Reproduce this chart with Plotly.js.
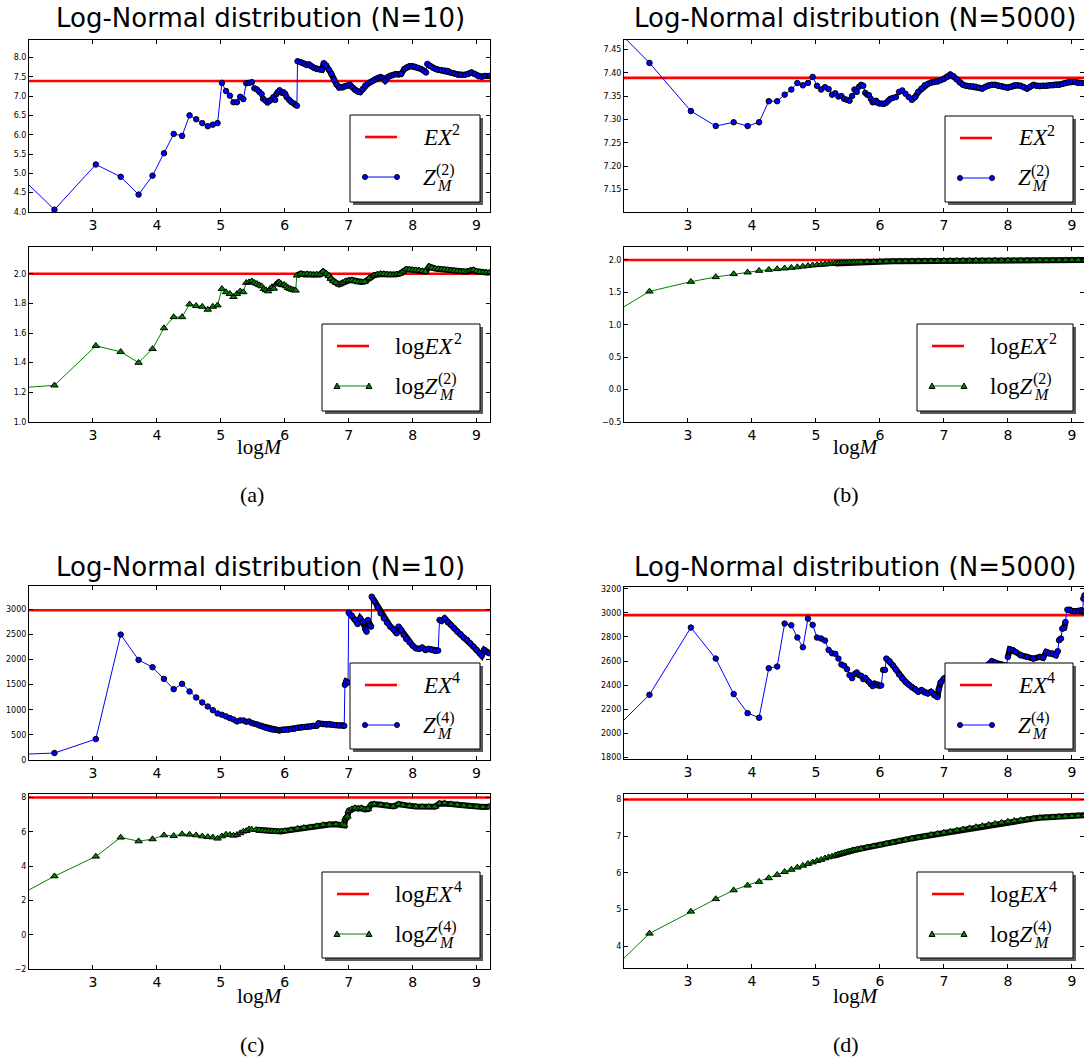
<!DOCTYPE html>
<html><head><meta charset="utf-8">
<script src="https://cdn.plot.ly/plotly-3.0.1.min.js"></script>
<style>html,body{margin:0;padding:0;background:#fff;overflow:hidden}#chart{width:1084px;height:1060px}</style>
</head><body><div id="chart"></div>
<script>
// ---------- reference values ----------
const EX2 = 7.389, LOG_EX2 = 2.0, EX4 = 2981, LOG_EX4 = 8.0;
const X_TICKS = [3, 4, 5, 6, 7, 8, 9];

// (a) top : Z_M^(2), N=10
const aTopX = [2.0,2.398,3.045,3.434,3.714,3.932,4.111,4.263,4.394,4.511,4.615,4.710,4.796,4.875,4.949,5.017,5.081,5.142,5.198,5.252,5.303,5.352,5.398,5.442,5.485,5.525,5.565,5.602,5.638,5.66,5.70,5.73,5.76,5.78,5.82,5.85,5.87,5.89,5.92,5.96,5.98,6.01,6.03,6.07,6.10,6.14,6.16,6.19,6.20,6.26,6.30,6.34,6.38,6.42,6.46,6.50,6.54,6.58,6.61,6.65,6.69,6.73,6.77,6.81,6.85,6.90,6.94,6.98,7.02,7.06,7.10,7.14,7.18,7.22,7.26,7.30,7.34,7.38,7.42,7.46,7.50,7.54,7.57,7.62,7.66,7.70,7.74,7.78,7.82,7.87,7.91,7.95,7.99,8.03,8.08,8.13,8.17,8.21,8.23,8.27,8.32,8.36,8.40,8.45,8.50,8.55,8.61,8.66,8.71,8.76,8.82,8.87,8.92,8.97,9.03,9.08,9.13,9.20];
const aTopY = [4.70,4.06,5.23,4.91,4.45,4.94,5.52,6.02,5.97,6.50,6.40,6.30,6.22,6.26,6.30,7.34,7.13,7.01,6.84,6.84,6.98,6.92,7.33,7.34,7.36,7.20,7.17,7.11,7.05,6.93,6.88,6.83,6.87,6.90,6.97,6.90,7.05,7.10,7.15,7.08,7.10,7.05,6.97,6.90,6.85,6.81,6.78,6.75,7.90,7.87,7.84,7.80,7.82,7.77,7.73,7.70,7.69,7.68,7.85,7.79,7.68,7.57,7.42,7.30,7.22,7.22,7.25,7.27,7.29,7.22,7.16,7.12,7.10,7.18,7.27,7.32,7.36,7.40,7.44,7.47,7.49,7.46,7.40,7.50,7.53,7.55,7.57,7.56,7.57,7.70,7.74,7.77,7.77,7.76,7.73,7.70,7.66,7.61,7.83,7.78,7.73,7.70,7.68,7.67,7.66,7.65,7.60,7.58,7.55,7.55,7.55,7.57,7.61,7.57,7.51,7.50,7.52,7.52];

// (a) bottom : log Z_M^(2), N=10
const aBotX = [2.0,2.398,3.045,3.434,3.714,3.932,4.111,4.263,4.394,4.511,4.615,4.710,4.796,4.875,4.949,5.017,5.081,5.142,5.198,5.252,5.303,5.352,5.398,5.442,5.485,5.525,5.565,5.602,5.638,5.673,5.707,5.740,5.771,5.801,5.829,5.858,5.886,5.913,5.940,5.966,5.991,6.02,6.05,6.08,6.11,6.14,6.17,6.19,6.25,6.30,6.35,6.40,6.45,6.50,6.55,6.60,6.65,6.69,6.72,6.76,6.80,6.85,6.90,6.95,7.00,7.05,7.10,7.15,7.20,7.25,7.32,7.40,7.45,7.50,7.55,7.60,7.65,7.70,7.75,7.80,7.85,7.90,7.95,8.00,8.05,8.10,8.15,8.20,8.26,8.30,8.35,8.40,8.45,8.50,8.55,8.60,8.65,8.70,8.75,8.80,8.85,8.90,8.95,9.00,9.05,9.10,9.15,9.20];
const aBotY = [1.235,1.247,1.514,1.473,1.400,1.493,1.633,1.708,1.708,1.794,1.783,1.778,1.758,1.778,1.787,1.898,1.876,1.864,1.844,1.864,1.882,1.876,1.939,1.943,1.950,1.939,1.932,1.923,1.916,1.898,1.889,1.882,1.898,1.910,1.900,1.928,1.939,1.943,1.932,1.923,1.925,1.916,1.905,1.898,1.894,1.890,1.887,1.989,2.000,1.995,1.998,1.995,1.993,1.995,1.995,2.014,2.000,1.985,1.966,1.950,1.939,1.928,1.938,1.950,1.955,1.957,1.950,1.943,1.944,1.946,1.970,1.989,1.995,2.000,1.998,1.995,1.993,1.991,1.996,2.000,2.015,2.030,2.028,2.025,2.024,2.023,2.018,2.014,2.048,2.040,2.034,2.032,2.030,2.028,2.025,2.022,2.020,2.017,2.014,2.014,2.014,2.020,2.025,2.016,2.011,2.010,2.008,2.007];

// (b) top : Z_M^(2), N=5000
const bTopX = [2.0,2.398,3.045,3.434,3.714,3.932,4.111,4.263,4.394,4.511,4.615,4.710,4.796,4.875,4.949,5.017,5.081,5.142,5.198,5.252,5.303,5.352,5.398,5.442,5.485,5.525,5.565,5.602,5.638,5.673,5.707,5.740,5.771,5.801,5.829,5.858,5.886,5.913,5.940,5.966,5.991,6.03,6.06,6.10,6.13,6.16,6.20,6.25,6.30,6.35,6.40,6.45,6.50,6.55,6.60,6.65,6.70,6.75,6.80,6.85,6.90,6.95,7.00,7.05,7.10,7.15,7.20,7.25,7.30,7.35,7.40,7.45,7.50,7.55,7.60,7.65,7.70,7.75,7.80,7.85,7.90,7.95,8.00,8.05,8.10,8.15,8.20,8.25,8.30,8.35,8.40,8.45,8.50,8.55,8.60,8.65,8.70,8.75,8.80,8.85,8.90,8.95,9.00,9.05,9.10,9.15,9.20];
const bTopY = [7.476,7.421,7.318,7.286,7.294,7.286,7.294,7.339,7.339,7.353,7.364,7.378,7.373,7.378,7.391,7.372,7.364,7.369,7.365,7.353,7.356,7.349,7.350,7.344,7.342,7.340,7.350,7.364,7.359,7.370,7.374,7.372,7.357,7.353,7.352,7.344,7.337,7.337,7.340,7.336,7.334,7.334,7.333,7.336,7.340,7.344,7.346,7.348,7.359,7.362,7.355,7.348,7.342,7.348,7.359,7.366,7.373,7.376,7.379,7.380,7.381,7.384,7.387,7.391,7.396,7.392,7.386,7.379,7.374,7.372,7.371,7.371,7.370,7.368,7.366,7.370,7.373,7.374,7.374,7.372,7.371,7.369,7.368,7.370,7.373,7.373,7.372,7.369,7.366,7.370,7.374,7.372,7.371,7.372,7.372,7.373,7.373,7.374,7.374,7.376,7.378,7.380,7.380,7.380,7.378,7.378,7.378];

// (b) bottom : log Z_M^(2), N=5000
const bBotX = [2.0,2.398,3.045,3.434,3.714,3.932,4.111,4.263,4.394,4.511,4.615,4.710,4.796,4.875,4.949,5.017,5.081,5.142,5.198,5.252,5.303,5.352,5.398,5.442,5.485,5.525,5.565,5.60,5.65,5.70,5.80,5.90,6.00,6.10,6.20,6.30,6.40,6.50,6.60,6.70,6.80,6.90,7.00,7.10,7.20,7.30,7.40,7.50,7.60,7.70,7.80,7.90,8.00,8.10,8.20,8.30,8.40,8.50,8.60,8.70,8.80,8.90,9.00,9.10,9.20];
const bBotY = [1.278,1.515,1.665,1.737,1.784,1.809,1.835,1.850,1.861,1.871,1.880,1.890,1.900,1.910,1.918,1.923,1.928,1.933,1.938,1.942,1.946,1.949,1.952,1.955,1.957,1.959,1.961,1.963,1.965,1.967,1.970,1.973,1.975,1.977,1.979,1.980,1.981,1.982,1.983,1.984,1.985,1.986,1.987,1.988,1.989,1.989,1.990,1.990,1.991,1.991,1.992,1.992,1.993,1.993,1.994,1.994,1.995,1.995,1.995,1.996,1.996,1.997,1.997,1.998,1.998];

// (c) top : Z_M^(4), N=10
const cTopX = [2.0,2.398,3.045,3.434,3.714,3.932,4.111,4.263,4.394,4.511,4.615,4.710,4.796,4.875,4.949,5.017,5.081,5.142,5.198,5.252,5.303,5.352,5.398,5.442,5.485,5.525,5.565,5.602,5.638,5.673,5.707,5.740,5.771,5.801,5.829,5.858,5.886,5.913,5.940,5.966,5.991,6.05,6.10,6.15,6.20,6.25,6.30,6.35,6.40,6.45,6.50,6.53,6.60,6.65,6.70,6.75,6.80,6.85,6.90,6.93,6.94,6.96,6.99,7.00,7.05,7.10,7.14,7.18,7.22,7.26,7.28,7.30,7.33,7.35,7.36,7.40,7.45,7.50,7.55,7.60,7.65,7.70,7.75,7.78,7.82,7.86,7.90,7.95,8.00,8.05,8.10,8.15,8.20,8.25,8.30,8.35,8.40,8.42,8.45,8.50,8.55,8.60,8.65,8.70,8.75,8.80,8.85,8.90,8.95,9.00,9.05,9.08,9.12,9.16,9.20];
const cTopY = [119,139,417,2497,1993,1848,1616,1411,1517,1364,1245,1146,1066,993,927,901,868,834,808,768,788,788,762,768,735,722,709,689,676,656,642,629,623,609,609,603,596,589,596,603,603,603,616,623,642,649,656,662,669,682,682,728,715,709,715,702,695,689,689,680,1497,1563,1543,2934,2874,2788,2709,2821,2755,2603,2556,2788,2689,2656,3252,3166,3040,2921,2821,2735,2656,2603,2523,2656,2590,2490,2411,2345,2278,2225,2212,2239,2192,2212,2192,2172,2179,2788,2768,2821,2742,2689,2623,2556,2503,2437,2391,2325,2258,2192,2126,2080,2192,2146,2126];

// (c) bottom : log Z_M^(4), N=10
const cBotX = [2.0,2.398,3.045,3.434,3.714,3.932,4.111,4.263,4.394,4.511,4.615,4.710,4.796,4.875,4.949,5.017,5.081,5.142,5.198,5.252,5.303,5.352,5.398,5.442,5.485,5.55,5.60,5.65,5.70,5.75,5.80,5.85,5.90,5.95,6.00,6.10,6.20,6.30,6.40,6.50,6.60,6.70,6.80,6.90,6.93,6.95,6.98,7.00,7.05,7.10,7.15,7.20,7.25,7.30,7.35,7.40,7.50,7.60,7.70,7.78,7.85,7.95,8.05,8.15,8.25,8.35,8.42,8.50,8.60,8.70,8.80,8.90,9.00,9.10,9.20];
const cBotY = [2.61,3.41,4.56,5.67,5.45,5.57,5.80,5.76,5.86,5.84,5.80,5.74,5.70,5.68,5.61,5.74,5.84,5.82,5.78,5.82,5.92,6.02,6.05,6.15,6.13,6.11,6.09,6.07,6.05,6.03,6.03,6.02,6.00,6.02,6.05,6.11,6.19,6.23,6.27,6.33,6.40,6.42,6.44,6.44,6.37,6.79,6.89,7.22,7.32,7.38,7.34,7.38,7.30,7.32,7.57,7.61,7.57,7.53,7.47,7.61,7.55,7.51,7.47,7.46,7.46,7.46,7.65,7.67,7.61,7.57,7.53,7.49,7.46,7.44,7.46];

// (d) top : Z_M^(4), N=5000
const dTopX = [2.0,2.398,3.045,3.434,3.714,3.932,4.111,4.263,4.394,4.511,4.615,4.710,4.796,4.875,4.949,5.017,5.081,5.142,5.198,5.252,5.303,5.352,5.398,5.442,5.485,5.525,5.565,5.602,5.638,5.673,5.707,5.740,5.771,5.801,5.829,5.858,5.886,5.913,5.940,5.966,5.991,6.02,6.05,6.08,6.10,6.15,6.20,6.25,6.30,6.35,6.40,6.45,6.50,6.55,6.60,6.65,6.70,6.75,6.80,6.85,6.90,6.92,6.95,7.00,7.05,7.20,7.40,7.60,7.70,7.75,7.80,7.90,7.98,8.00,8.03,8.08,8.12,8.20,8.30,8.40,8.50,8.55,8.60,8.65,8.70,8.75,8.78,8.80,8.83,8.85,8.88,8.90,8.93,8.97,9.00,9.05,9.10,9.15,9.17,9.18,9.20];
const dTopY = [2112,2321,2878,2621,2327,2169,2131,2541,2555,2911,2897,2795,2715,2952,2900,2795,2787,2770,2693,2665,2660,2621,2572,2561,2533,2484,2459,2492,2506,2484,2478,2451,2462,2442,2428,2409,2393,2415,2401,2406,2395,2398,2527,2527,2621,2599,2566,2530,2489,2456,2428,2406,2384,2368,2346,2360,2340,2332,2346,2318,2302,2368,2423,2456,2470,2490,2510,2535,2575,2599,2588,2572,2561,2635,2698,2690,2676,2649,2635,2621,2635,2627,2676,2663,2663,2649,2682,2773,2787,2869,2875,2924,3026,3026,3015,3013,3013,3021,3007,3117,3145];

// (d) bottom : log Z_M^(4), N=5000
const dBotX = [2.0,2.398,3.045,3.434,3.714,3.932,4.111,4.263,4.394,4.511,4.615,4.710,4.796,4.875,4.949,5.017,5.081,5.142,5.198,5.252,5.303,5.352,5.398,5.442,5.485,5.525,5.565,5.60,5.65,5.70,5.80,5.90,6.00,6.10,6.20,6.30,6.40,6.50,6.60,6.70,6.80,6.90,7.00,7.10,7.20,7.30,7.40,7.50,7.60,7.70,7.80,7.90,8.00,8.10,8.20,8.30,8.40,8.50,8.60,8.70,8.80,8.90,9.00,9.10,9.20];
const dBotY = [3.68,4.35,4.95,5.29,5.53,5.66,5.76,5.86,5.95,6.03,6.09,6.15,6.20,6.25,6.29,6.33,6.36,6.40,6.43,6.45,6.48,6.51,6.53,6.55,6.57,6.59,6.61,6.62,6.64,6.66,6.70,6.73,6.76,6.80,6.83,6.87,6.90,6.94,6.97,7.00,7.04,7.07,7.10,7.13,7.16,7.19,7.22,7.25,7.28,7.31,7.34,7.37,7.40,7.42,7.44,7.46,7.48,7.50,7.51,7.52,7.53,7.54,7.55,7.56,7.57];

const TITLES = ['Log-Normal distribution (N=10)', 'Log-Normal distribution (N=5000)', 'Log-Normal distribution (N=10)', 'Log-Normal distribution (N=5000)'];
const CAPTIONS = ['(a)', '(b)', '(c)', '(d)'];

// ---------- layout / style ----------
const W = 1084, H = 1060;
const panels = [
  {x:aTopX, y:aTopY, ref:EX2,     log:false, m:2, box:[29,490,40,212],   xr:[2,9.21], yr:[4.0,8.45],   dtick:0.5,  fmt:'.1f', dense:6.195, lg:[350,480,115,202]},
  {x:aBotX, y:aBotY, ref:LOG_EX2, log:true,  m:2, box:[29,490,247,422],  xr:[2,9.21], yr:[1.0,2.18],   dtick:0.2,  fmt:'.1f', dense:6.185, lg:[322,480,324,411]},
  {x:bTopX, y:bTopY, ref:EX2,     log:false, m:2, box:[624,1084,40,212], xr:[2,9.19], yr:[7.102,7.47], dtick:0.05, fmt:'.2f', dense:6.5,   lg:[945,1073,116,202]},
  {x:bBotX, y:bBotY, ref:LOG_EX2, log:true,  m:2, box:[624,1084,247,422],xr:[2,9.19], yr:[-0.5,2.2],   dtick:0.5,  fmt:'.1f', dense:5.3,   lg:[917,1073,324,411]},
  {x:cTopX, y:cTopY, ref:EX4,     log:false, m:4, box:[29,490,586,760],  xr:[2,9.21], yr:[0,3465],     dtick:500,  fmt:'d',   dense:5.6,   lg:[350,480,663,749]},
  {x:cBotX, y:cBotY, ref:LOG_EX4, log:true,  m:4, box:[29,490,794,969],  xr:[2,9.21], yr:[-2,8.2],     dtick:2,    fmt:'d',   dense:5.5,   lg:[322,480,872,958]},
  {x:dTopX, y:dTopY, ref:EX4,     log:false, m:4, box:[624,1084,587,759],xr:[2,9.19], yr:[1789,3214],  dtick:200,  fmt:'d',   dense:6.1,   lg:[945,1073,663,749]},
  {x:dBotX, y:dBotY, ref:LOG_EX4, log:true,  m:4, box:[624,1084,794,968],xr:[2,9.19], yr:[3.41,8.15],  dtick:1,    fmt:'d',   dense:5.3,   lg:[917,1073,872,958]}
];

const traces = [];
const layout = {
  width: W, height: H, margin: {l:0, r:0, t:0, b:0},
  paper_bgcolor: '#fff', plot_bgcolor: '#fff', showlegend: false,
  annotations: [], shapes: []
};
const px = (v) => v / W, py = (v) => 1 - v / H;
const SERIF = 'Liberation Serif';
const LEG_FS = 23, SCR_FS = 16;
// approximate advance widths (em) for Liberation Serif
const W_LOG = 1.278, W_EX = 1.222, W_Z = 0.556;

function txt(t, x, y, size, family, anchor) {
  layout.annotations.push({text:t, x:px(x), y:py(y), xref:'paper', yref:'paper', xanchor:anchor || 'left',
    yanchor:'middle', showarrow:false, borderpad:0, font:{family:family || SERIF, size:size, color:'#000'}});
}

function legendBox(p, col) {
  const [L, R, T, B] = p.lg;
  const S = layout.shapes;
  S.push({type:'rect', xref:'paper', yref:'paper', x0:px(L+3), x1:px(R+3), y0:py(B+3), y1:py(T+3),
    fillcolor:'#5a5a5a', line:{width:0}});
  S.push({type:'rect', xref:'paper', yref:'paper', x0:px(L), x1:px(R), y0:py(B), y1:py(T),
    fillcolor:'#ffffff', line:{color:'#000', width:1}});
  const l0 = L + 15, l1 = L + 47, y1 = T + 22, y2 = T + 62;
  S.push({type:'line', xref:'paper', yref:'paper', x0:px(l0), x1:px(l1), y0:py(y1), y1:py(y1), line:{color:'#ff0000', width:2.6}});
  S.push({type:'line', xref:'paper', yref:'paper', x0:px(l0), x1:px(l1), y0:py(y2), y1:py(y2), line:{color:col, width:1}});
  [l0, l1].forEach(cx => {
    if (p.log) {
      S.push({type:'path', xref:'paper', yref:'paper',
        path:`M${px(cx-3)},${py(y2+2.5)} L${px(cx+3)},${py(y2+2.5)} L${px(cx)},${py(y2-3)} Z`,
        fillcolor:col, line:{color:'#000', width:1}});
    } else {
      S.push({type:'circle', xref:'paper', yref:'paper', x0:px(cx-2.5), x1:px(cx+2.5), y0:py(y2+2.5), y1:py(y2-2.5),
        fillcolor:col, line:{color:'#000', width:1}});
    }
  });
  const tx = L + 72;
  const pre = p.log ? 'log' : '';
  const preW = p.log ? W_LOG * LEG_FS : 0;
  // entry 1
  txt(pre + '<i>EX</i>', tx, y1, LEG_FS);
  txt(String(p.m), tx + preW + W_EX * LEG_FS + 1, y1 - 7.5, SCR_FS);
  // entry 2 (stacked super/subscript)
  txt(pre + '<i>Z</i>', tx, y2, LEG_FS);
  const sx = tx + preW + W_Z * LEG_FS + 0.5;
  txt('(' + p.m + ')', sx, y2 - 7, SCR_FS);
  txt('<i>M</i>', sx + 1, y2 + 8, SCR_FS);
}

panels.forEach((p, k) => {
  const i = k + 1;
  const xa = i === 1 ? 'x' : 'x' + i, ya = i === 1 ? 'y' : 'y' + i;
  const n = Math.min(p.x.length, p.y.length);
  const X = p.x.slice(0, n), Y = p.y.slice(0, n);
  const col = p.log ? '#008000' : '#0000ff';

  // reference line
  traces.push({type:'scatter', mode:'lines', x:[p.xr[0], p.xr[1]], y:[p.ref, p.ref], xaxis:xa, yaxis:ya,
    line:{color:'#ff0000', width:2.6}, hoverinfo:'skip'});
  // leading segment from the axis edge
  traces.push({type:'scatter', mode:'lines', x:X.slice(0,2), y:Y.slice(0,2), xaxis:xa, yaxis:ya,
    line:{color:col, width:1}, hoverinfo:'skip'});
  // dense band (overlapping marker outlines)
  const pxPerY = (p.box[3]-p.box[2]) / (p.yr[1]-p.yr[0]);
  const bx = [], by = []; let prev = null;
  for (let j = 1; j < n; j++) {
    if (X[j] < p.dense) continue;
    if (prev !== null && Math.abs(Y[j]-prev) * pxPerY > 8) { bx.push(null); by.push(null); }
    bx.push(X[j]); by.push(Y[j]); prev = Y[j];
  }
  traces.push({type:'scatter', mode:'lines', x:bx, y:by, xaxis:xa, yaxis:ya,
    line:{color:'#000', width:6}, hoverinfo:'skip'});
  // series
  traces.push({type:'scatter', mode:'lines+markers', x:X.slice(1), y:Y.slice(1), xaxis:xa, yaxis:ya,
    line:{color:col, width:1},
    marker: p.log ? {symbol:'triangle-up', size:6.5, color:col, line:{color:'#000', width:1}}
                  : {symbol:'circle', size:5.5, color:col, line:{color:'#000', width:1}},
    hoverinfo:'skip'});

  layout[i === 1 ? 'xaxis' : 'xaxis' + i] = {
    domain:[px(p.box[0]), px(p.box[1])], anchor:ya, range:p.xr, tickvals:X_TICKS,
    ticks:'inside', ticklen:4, tickcolor:'#000', showline:true, linecolor:'#000', linewidth:1, mirror:'allticks',
    showgrid:false, zeroline:false, tickfont:{family:'DejaVu Sans', size:14, color:'#000'}
  };
  layout[i === 1 ? 'yaxis' : 'yaxis' + i] = {
    domain:[py(p.box[3]), py(p.box[2])], anchor:xa, range:p.yr, tick0:0, dtick:p.dtick, tickformat:p.fmt,
    ticks:'inside', ticklen:4, tickcolor:'#000', showline:true, linecolor:'#000', linewidth:1, mirror:'allticks',
    showgrid:false, zeroline:false, tickfont:{family:'DejaVu Sans', size:8, color:'#000'}
  };
  legendBox(p, col);
});

const titlePos = [[260,18],[855,18],[260,567],[855,567]];
const xlabPos = [[260,447],[856,447],[260,996],[856,996]];
const capPos = [[252,494],[846,494],[252,1044],[846,1044]];
TITLES.forEach((t, k) => {
  txt(t, titlePos[k][0], titlePos[k][1], 26, 'DejaVu Sans', 'center');
  txt('log<i>M</i>', xlabPos[k][0], xlabPos[k][1], 21, SERIF, 'center');
  txt(CAPTIONS[k], capPos[k][0], capPos[k][1], 22, SERIF, 'center');
});

Plotly.newPlot('chart', traces, layout, {displayModeBar:false, staticPlot:true});
</script></body></html>
